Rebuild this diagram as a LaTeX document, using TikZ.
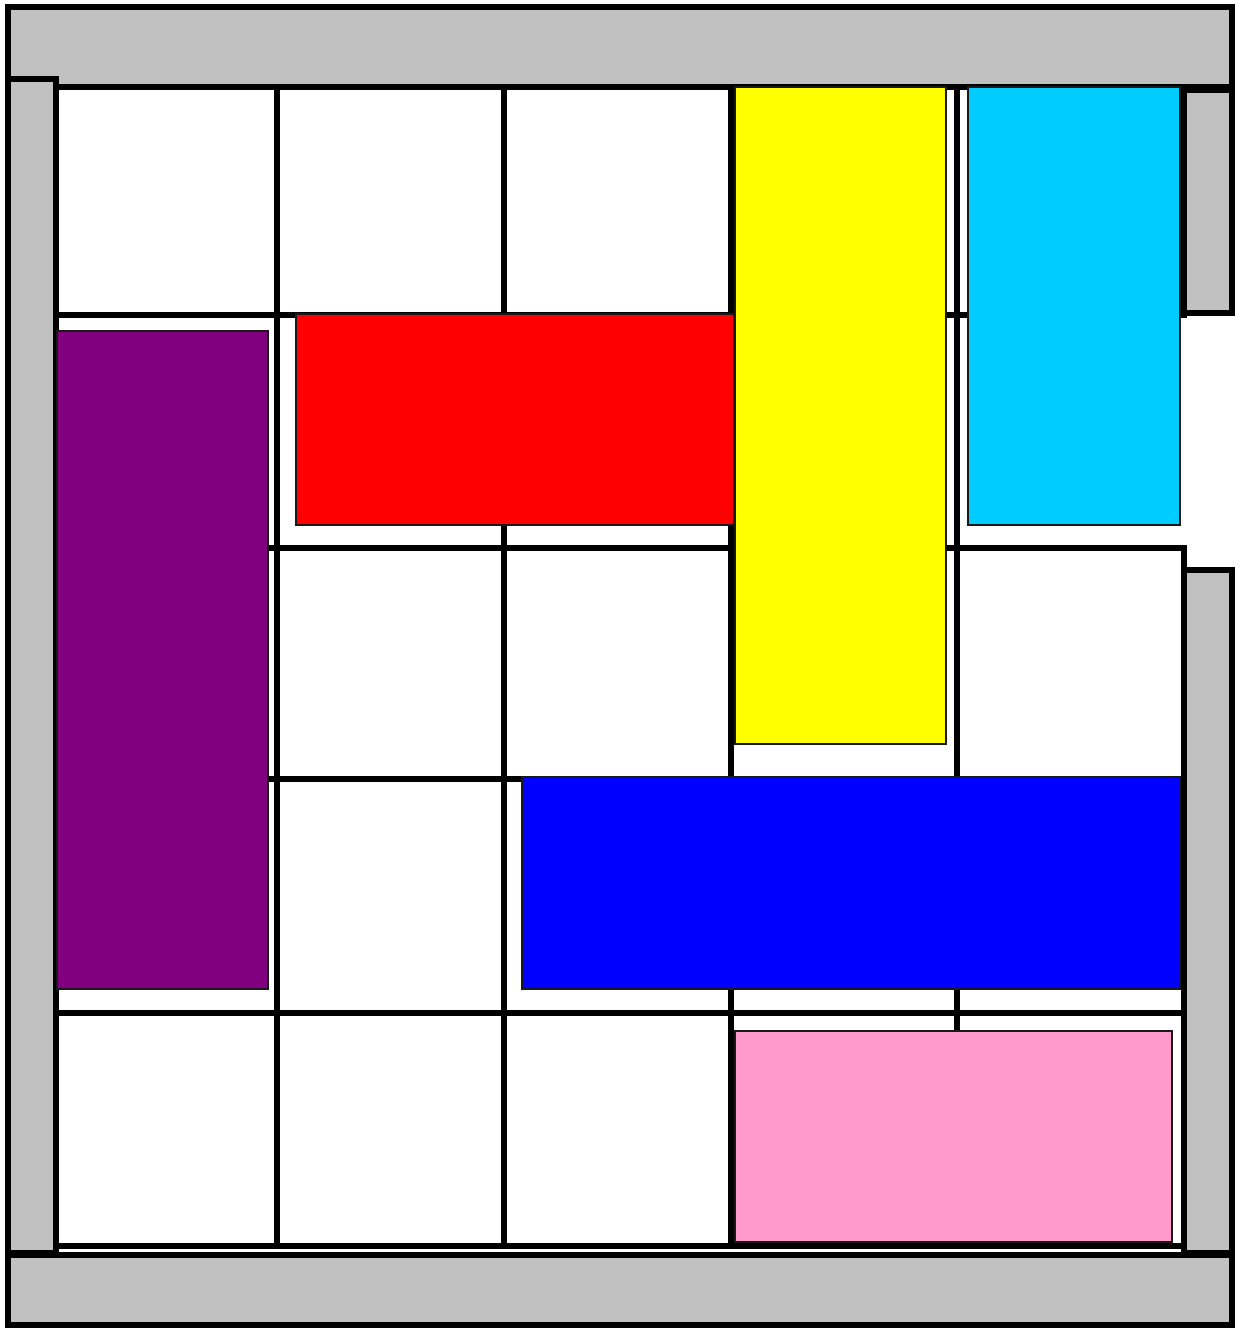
\documentclass[tikz,border=0pt]{standalone}
\usepackage{tikz}

\definecolor{wallgray}{HTML}{C0C0C0}
\definecolor{carpurple}{HTML}{800080}
\definecolor{carred}{HTML}{FF0000}
\definecolor{caryellow}{HTML}{FFFF00}
\definecolor{carcyan}{HTML}{00CCFF}
\definecolor{carblue}{HTML}{0000FF}
\definecolor{carpink}{HTML}{FF99CC}

\begin{document}
\begin{tikzpicture}[
  x=0.02cm,y=-0.02cm,
  wall/.style={draw=black,line width=3.4pt,fill=wallgray},
  gridline/.style={draw=black,line width=3.4pt,line cap=rect},
  car/.style={draw=black!90,line width=0.8pt},
]
  \useasboundingbox (0,0) rectangle (1240,1328);

  % board
  \foreach \x in {56,277,504,731,957}
    \draw[gridline] (\x,87) -- (\x,1246);
  \foreach \y in {87,315,548,779,1013,1246}
    \draw[gridline] (56,\y) -- (1184,\y);
  \draw[gridline] (1184,87) -- (1184,315);
  \draw[gridline] (1184,548) -- (1184,1246);

  % walls
  \draw[wall] (8,7) rectangle (1232,87);
  \draw[wall] (8,79) rectangle (56,1253);
  \draw[wall] (1184,90) rectangle (1232,313);
  \draw[wall] (1184,570) rectangle (1232,1253);
  \draw[wall] (8,1255) rectangle (1232,1325);

  % cars
  \draw[car,fill=carpurple] (57,331) rectangle (268,989);
  \draw[car,fill=carred] (296,314) rectangle (734,525);
  \draw[car,fill=caryellow] (735,87) rectangle (946,744);
  \draw[car,fill=carcyan] (968,87) rectangle (1180,525);
  \draw[car,fill=carblue] (522,777) rectangle (1180,989);
  \draw[car,fill=carpink] (735,1031) rectangle (1172,1242);
\end{tikzpicture}
\end{document}
